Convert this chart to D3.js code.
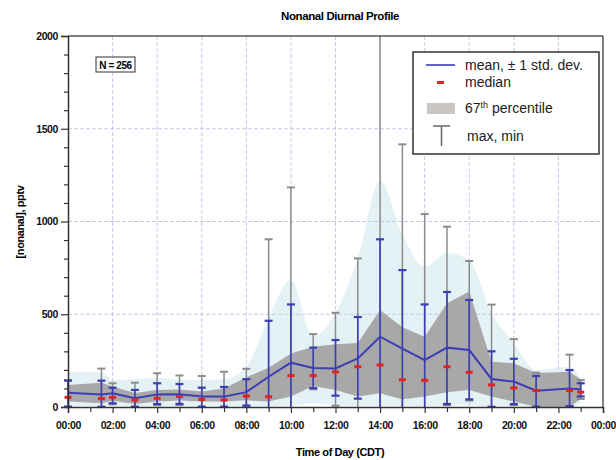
<!DOCTYPE html>
<html>
<head>
<meta charset="utf-8">
<script src="https://cdn.jsdelivr.net/npm/d3@7"></script>
<style>
  body { margin: 0; background: #fff; }
  .cond { font-family: "Liberation Sans Narrow", "Liberation Sans", Arial, sans-serif; font-weight: bold; letter-spacing: -0.4px; }
  .legendText { font-family: "Liberation Sans", Arial, sans-serif; font-size: 14px; fill: #222; }
</style>
</head>
<body>
<div id="chart"></div>
<script>
// chart data
var hours    = [0, 1.5, 2, 3, 4, 5, 6, 7, 8, 9, 10, 11, 12, 13, 14, 15, 16, 17, 18, 19, 20, 21, 22.5, 23];
var means    = [77, 68, 74, 47, 68, 69, 56, 56, 80, 163, 239, 210, 208, 262, 379, 315, 253, 320, 307, 151, 137, 88, 100, 95];
var medians  = [52, 45, 52, 38, 47, 57, 41, 38, 59, 55, 169, 169, 189, 217, 226, 147, 144, 217, 187, 119, 103, 88, 88, 80];
var sdHigh   = [142, 142, 104, 92, 128, 124, 104, 108, 150, 465, 553, 320, 361, 485, 904, 738, 553, 620, 577, 300, 260, 167, 199, 128];
var sdLow    = [2, 1, 20, 2, 16, 17, 2, 2, 8, -139, -75, 102, 61, 45, -146, -108, -47, 16, 41, 1, 16, 2, 5, 57];
var maxVals  = [145, 207, 128, 131, 182, 170, 167, 190, 206, 904, 1184, 393, 508, 801, 2150, 1416, 1040, 972, 787, 552, 366, 185, 282, 145];
var minVals  = [0, 0, 15, 0, 10, 10, 0, 0, 5, 0, 0, 95, 7, 0, 0, 0, 0, 10, 35, 0, 10, 0, 3, 43];
var p67High  = [119, 131, 110, 76, 92, 95, 83, 100, 160, 212, 289, 325, 338, 345, 523, 430, 379, 559, 622, 244, 236, 183, 190, 150];
var p67Low   = [29, 20, 34, 16, 29, 35, 29, 29, 36, 29, 56, 113, 92, 56, 74, 40, 56, 79, 92, 56, 29, 0, 0, 45];
var outerHigh = [190, 190, 146, 150, 156, 150, 146, 150, 217, 480, 685, 379, 505, 800, 1220, 930, 756, 830, 790, 507, 345, 200, 217, 146];
var outerLow  = [5, 5, 5, 5, 5, 5, 5, 5, 5, 5, 5, 20, 10, 5, 5, 5, 5, 10, 10, 5, 5, 0, 0, 20];
var xTicks = [0, 2, 4, 6, 8, 10, 12, 14, 16, 18, 20, 22, 24];
var yTicks = [0, 500, 1000, 1500, 2000];

var svgWidth = 616;
var svgHeight = 460;

var margin = { top: 36, right: 13, bottom: 53, left: 68 };
var width = svgWidth - margin.left - margin.right;
var height = svgHeight - margin.top - margin.bottom;

var svg = d3.select("#chart")
    .append("svg")
    .attr("width", svgWidth)
    .attr("height", svgHeight);

var chartGroup = svg.append("g")
    .attr("transform", `translate(${margin.left}, ${margin.top})`);

var rows = hours.map(function(h, i) {
    return {
        hour: h, mean: means[i], median: medians[i],
        sdHi: sdHigh[i], sdLo: sdLow[i], max: maxVals[i], min: minVals[i],
        pHi: p67High[i], pLo: p67Low[i], oHi: outerHigh[i], oLo: outerLow[i]
    };
});

var xScale = d3.scaleLinear().domain([0, 24]).range([0, width]);
var yScale = d3.scaleLinear().domain([0, 2000]).range([height, 0]);
var clampY = function(v) { return yScale(Math.max(0, Math.min(2000, v))); };

// outer (light) band
chartGroup.append("path")
    .datum(rows)
    .attr("fill", "#e4f2f5")
    .attr("d", d3.area()
        .x(d => xScale(d.hour))
        .y0(d => yScale(d.oLo))
        .y1(d => yScale(d.oHi))
        .curve(d3.curveMonotoneX));

// grid
var gridColor = "#c8c8ea";
chartGroup.selectAll(".vgrid")
    .data(d3.range(2, 24, 2))
    .enter().append("line")
    .attr("x1", d => xScale(d)).attr("x2", d => xScale(d))
    .attr("y1", 0).attr("y2", height)
    .attr("stroke", gridColor).attr("stroke-width", 1)
    .attr("stroke-dasharray", "4,2");

chartGroup.selectAll(".hgrid")
    .data([500, 1000, 1500])
    .enter().append("line")
    .attr("x1", 0).attr("x2", width)
    .attr("y1", d => yScale(d)).attr("y2", d => yScale(d))
    .attr("stroke", gridColor).attr("stroke-width", 1)
    .attr("stroke-dasharray", "4,2");

// 67th percentile band
chartGroup.append("path")
    .datum(rows)
    .attr("fill", "#a9a8a8")
    .attr("d", d3.area()
        .x(d => xScale(d.hour))
        .y0(d => yScale(d.pLo))
        .y1(d => yScale(d.pHi)));

// max / min whiskers
var capW = 4;
var greyCol = "#8c8c8c";
var whisk = chartGroup.append("g");
rows.forEach(function(d) {
    var cx = xScale(d.hour);
    whisk.append("line")
        .attr("x1", cx).attr("x2", cx)
        .attr("y1", clampY(d.min)).attr("y2", clampY(d.max))
        .attr("stroke", greyCol).attr("stroke-width", 1.5);
    if (d.max <= 2000) {
        whisk.append("line")
            .attr("x1", cx - capW).attr("x2", cx + capW)
            .attr("y1", yScale(d.max)).attr("y2", yScale(d.max))
            .attr("stroke", greyCol).attr("stroke-width", 2);
    }
    if (d.min > 0) {
        whisk.append("line")
            .attr("x1", cx - capW).attr("x2", cx + capW)
            .attr("y1", yScale(d.min)).attr("y2", yScale(d.min))
            .attr("stroke", greyCol).attr("stroke-width", 2);
    }
});

// mean +/- 1 sd bars
var blue = "#3d3db4";
var sdG = chartGroup.append("g");
rows.forEach(function(d) {
    var cx = xScale(d.hour);
    sdG.append("line")
        .attr("x1", cx).attr("x2", cx)
        .attr("y1", clampY(d.sdLo)).attr("y2", clampY(d.sdHi))
        .attr("stroke", blue).attr("stroke-width", 1.6);
    sdG.append("line")
        .attr("x1", cx - capW).attr("x2", cx + capW)
        .attr("y1", yScale(d.sdHi)).attr("y2", yScale(d.sdHi))
        .attr("stroke", blue).attr("stroke-width", 2.2);
    if (d.sdLo > 0) {
        sdG.append("line")
            .attr("x1", cx - capW).attr("x2", cx + capW)
            .attr("y1", yScale(d.sdLo)).attr("y2", yScale(d.sdLo))
            .attr("stroke", blue).attr("stroke-width", 2.2);
    }
});

// mean line
chartGroup.append("path")
    .datum(rows)
    .attr("fill", "none")
    .attr("stroke", blue)
    .attr("stroke-width", 2)
    .attr("d", d3.line().x(d => xScale(d.hour)).y(d => yScale(d.mean)));

// medians
chartGroup.selectAll(".med")
    .data(rows)
    .enter().append("rect")
    .attr("x", d => xScale(d.hour) - 3.5)
    .attr("y", d => yScale(d.median) - 1.5)
    .attr("width", 7).attr("height", 3)
    .attr("fill", "#e3221f");

// frame (top/right)
chartGroup.append("line")
    .attr("x1", 0).attr("x2", width).attr("y1", 0).attr("y2", 0)
    .attr("stroke", "#555").attr("stroke-width", 1.5);
chartGroup.append("line")
    .attr("x1", width).attr("x2", width).attr("y1", 0).attr("y2", height)
    .attr("stroke", "#555").attr("stroke-width", 1.5);

// axes
var bottomAxis = d3.axisBottom(xScale)
    .tickValues(xTicks)
    .tickSize(6)
    .tickFormat(d => (d % 24 < 10 ? "0" : "") + (d % 24) + ":00");
var bottomMinor = d3.axisBottom(xScale).tickValues(d3.range(1, 24, 2)).tickSize(5).tickFormat("");
var leftAxis = d3.axisLeft(yScale).tickValues(yTicks).tickSize(7).tickPadding(3).tickFormat(d3.format("d"));
var leftMinor = d3.axisLeft(yScale).tickValues(d3.range(100, 2000, 100).filter(v => v % 500 != 0)).tickSize(4).tickFormat("");

var xg = chartGroup.append("g").attr("transform", `translate(0, ${height})`).call(bottomAxis);
chartGroup.append("g").attr("transform", `translate(0, ${height})`).call(bottomMinor)
    .select(".domain").remove();
var yg = chartGroup.append("g").call(leftAxis);
chartGroup.append("g").call(leftMinor).select(".domain").remove();

svg.selectAll(".domain").attr("stroke", "#333").attr("stroke-width", 1.5);
svg.selectAll(".tick line").attr("stroke", "#333").attr("stroke-width", 1.2);
xg.selectAll("text").attr("class", "cond").attr("font-size", 10.5).attr("fill", "#111").attr("dy", "1.2em");
yg.selectAll("text").attr("class", "cond").attr("font-size", 10.5).attr("fill", "#111");

// titles
svg.append("text")
    .attr("class", "cond")
    .attr("x", 340).attr("y", 20)
    .attr("text-anchor", "middle")
    .attr("font-size", 11.5)
    .text("Nonanal Diurnal Profile");

svg.append("text")
    .attr("class", "cond")
    .attr("x", 340).attr("y", 456)
    .attr("text-anchor", "middle")
    .attr("font-size", 11)
    .text("Time of Day (CDT)");

svg.append("text")
    .attr("class", "cond")
    .attr("transform", "translate(24, 222) rotate(-90)")
    .attr("text-anchor", "middle")
    .attr("font-size", 11)
    .text("[nonanal], pptv");

// N label
var nBox = svg.append("g").attr("transform", "translate(96, 57)");
nBox.append("rect").attr("width", 39).attr("height", 15)
    .attr("fill", "#fff").attr("stroke", "#333").attr("stroke-width", 1);
nBox.append("text").attr("class", "cond")
    .attr("x", 19.5).attr("y", 11.5).attr("text-anchor", "middle")
    .attr("font-size", 10).text("N = 256");

// legend
var legend = svg.append("g").attr("transform", "translate(413, 52)");
legend.append("rect").attr("width", 186).attr("height", 102)
    .attr("fill", "#fff").attr("stroke", "#333").attr("stroke-width", 1.5);
legend.append("line").attr("x1", 13).attr("x2", 42).attr("y1", 13).attr("y2", 13)
    .attr("stroke", blue).attr("stroke-width", 1.6);
legend.append("text").attr("class", "legendText").attr("x", 52).attr("y", 18).text("mean, \u00b1 1 std. dev.");
legend.append("rect").attr("x", 24).attr("y", 29).attr("width", 7).attr("height", 3).attr("fill", "#e3221f");
legend.append("text").attr("class", "legendText").attr("x", 52).attr("y", 35).text("median");
legend.append("rect").attr("x", 14).attr("y", 51).attr("width", 28).attr("height", 11).attr("fill", "#c9c6c4");
var pt = legend.append("text").attr("class", "legendText").attr("x", 52).attr("y", 61);
pt.append("tspan").text("67");
pt.append("tspan").attr("font-size", 9).attr("dy", -5).text("th");
pt.append("tspan").attr("dy", 5).text(" percentile");
legend.append("line").attr("x1", 20).attr("x2", 37).attr("y1", 74).attr("y2", 74)
    .attr("stroke", "#666").attr("stroke-width", 1.5);
legend.append("line").attr("x1", 28.5).attr("x2", 28.5).attr("y1", 74).attr("y2", 94)
    .attr("stroke", "#666").attr("stroke-width", 1.5);
legend.append("text").attr("class", "legendText").attr("x", 54).attr("y", 89).text("max, min");
</script>
</body>
</html>
